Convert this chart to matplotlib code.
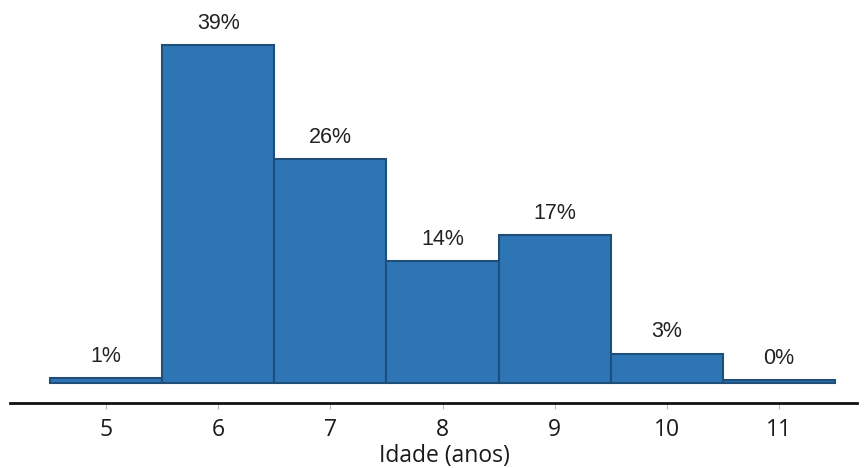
import matplotlib
matplotlib.use("Agg")
import matplotlib.pyplot as plt

ages = [5, 6, 7, 8, 9, 10, 11]
percent = [0.6, 39.0, 25.8, 14.1, 17.1, 3.4, 0.3]
labels = ["1%", "39%", "26%", "14%", "17%", "3%", "0%"]
xlabel = "Idade (anos)"

fig = plt.figure(figsize=(8.67, 4.68), dpi=100)
ax = fig.add_axes([10/867, 65/468, 847/867, 403/468])

ax.bar(ages, percent, width=1.0, color="#2e75b6", edgecolor="#1f4e79", linewidth=1.5, align="center")
for x, v, lab in zip(ages, percent, labels):
    ax.annotate(lab, (x, v), xytext=(0, 8), textcoords="offset points", ha="center", va="bottom",
                fontsize=15.5, color="#222222", family="Liberation Sans")

ax.set_xlim(4.144, 11.695)
ax.set_ylim(-2.3, 44.2)
for s in ["top", "right", "left"]:
    ax.spines[s].set_visible(False)
ax.spines["bottom"].set_linewidth(2)
ax.spines["bottom"].set_color("#111111")
ax.set_yticks([])
ax.set_xticks(ages)
ax.set_xticklabels([str(a) for a in ages], fontsize=16.5, family="Open Sans", color="#1a1a1a")
ax.tick_params(axis="x", length=4, width=0.8, color="#bbbbbb", pad=7)
ax.set_xlabel(xlabel, fontsize=16.5, family="Open Sans", color="#1a1a1a", labelpad=1, x=(444 - 10) / 847)

fig.savefig("out.png", dpi=100)
